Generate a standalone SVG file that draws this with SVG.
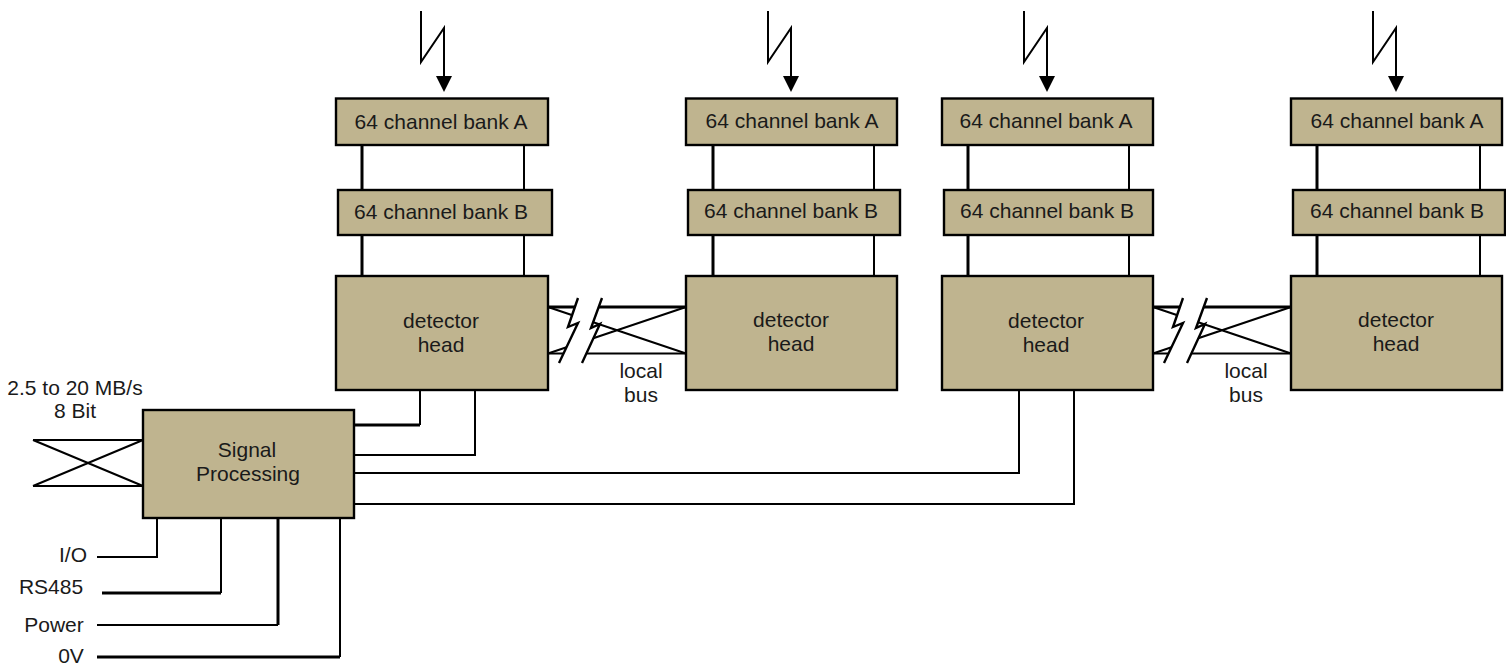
<svg xmlns="http://www.w3.org/2000/svg" width="1506" height="664" viewBox="0 0 1506 664">
<style>
text{font-family:"Liberation Sans",Arial,sans-serif;font-size:21px;fill:#1a1a1a;text-anchor:middle}
.box{fill:#bfb48f;stroke:#000;stroke-width:2.4}
.l{fill:none;stroke:#000;stroke-width:2}
.t{fill:none;stroke:#000;stroke-width:3}
.z{fill:none;stroke:#000;stroke-width:2.4}
</style>
<defs>
<g id="bolt"><polyline class="l" points="0,11 0,62 23,28 23,78"/><polygon points="15,76 31,76 23,92" fill="#000"/></g>
<g id="brk">
<path class="t" d="M0,307H138" stroke-width="3.500"/>
<path class="l" d="M0,353.500H138"/>
<path class="l" d="M0,307L138,353.500M0,353.500L138,307"/>
<polygon points="30,298 20,327 30,323 11,363 34,363 52,324 43,328 54,298" fill="#fff"/>
<path class="z" d="M30,298L20,327L30,323L11,363M54,298L43,328L52,324L34,363"/>
</g>
</defs>
<g id="connectors">
<use href="#bolt" x="421"/><use href="#bolt" x="768"/><use href="#bolt" x="1024"/><use href="#bolt" x="1373"/>
<path class="t" d="M362,145V276M713,145V276M968,145V276M1317,145V276"/>
<path class="l" d="M524,145V276M874,145V276M1129,145V276M1480,145V276"/>
<use href="#brk" x="548"/><use href="#brk" x="1153"/>
<path class="t" d="M354,425H420"/><path class="l" d="M420,425V390"/>
<path class="l" d="M354,455H475V390M354,473H1019V390M354,504H1074V390"/>
<path class="l" d="M33,440H143M33,486H143M33,440L143,486M33,486L143,440"/>
<path class="l" d="M97,557H157V518"/>
<path class="t" d="M102,593H221"/><path class="l" d="M221,593V518"/>
<path class="l" d="M97,625H278"/><path class="t" d="M278,625V518"/>
<path class="t" d="M97,657H340"/><path class="l" d="M340,657V518"/>
</g>
<g id="bank-a1"><rect class="box" x="336" y="98.500" width="212" height="46.500"/><text x="441" y="129">64 channel bank A</text></g>
<g id="bank-b1"><rect class="box" x="338" y="190" width="214" height="45"/><text x="441" y="219">64 channel bank B</text></g>
<g id="head1"><rect class="box" x="336" y="276" width="212" height="114"/><text x="441" y="328">detector</text><text x="441" y="352">head</text></g>
<g id="bank-a2"><rect class="box" x="686" y="98.500" width="211" height="46.500"/><text x="792" y="128">64 channel bank A</text></g>
<g id="bank-b2"><rect class="box" x="688" y="190" width="212" height="45"/><text x="791" y="218">64 channel bank B</text></g>
<g id="head2"><rect class="box" x="686" y="276" width="211" height="114"/><text x="791" y="327">detector</text><text x="791" y="351">head</text></g>
<g id="bank-a3"><rect class="box" x="942" y="98.500" width="211" height="46.500"/><text x="1046" y="128">64 channel bank A</text></g>
<g id="bank-b3"><rect class="box" x="944" y="190" width="209" height="45"/><text x="1047" y="218">64 channel bank B</text></g>
<g id="head3"><rect class="box" x="942" y="276" width="211" height="114"/><text x="1046" y="328">detector</text><text x="1046" y="352">head</text></g>
<g id="bank-a4"><rect class="box" x="1291" y="98.500" width="211" height="46.500"/><text x="1397" y="128">64 channel bank A</text></g>
<g id="bank-b4"><rect class="box" x="1293" y="190" width="212" height="45"/><text x="1397" y="218">64 channel bank B</text></g>
<g id="head4"><rect class="box" x="1291" y="276" width="211" height="114"/><text x="1396" y="327">detector</text><text x="1396" y="351">head</text></g>
<g id="signal"><rect class="box" x="143" y="410" width="211" height="108"/><text x="247" y="457">Signal</text><text x="248" y="481">Processing</text></g>
<g id="labels">
<text x="641" y="378">local</text><text x="641" y="402">bus</text>
<text x="1246" y="378">local</text><text x="1246" y="402">bus</text>
<text x="75" y="395">2.5 to 20 MB/s</text><text x="75" y="418">8 Bit</text>
<text x="73" y="562">I/O</text><text x="51" y="594">RS485</text><text x="54" y="632">Power</text><text x="71" y="663">0V</text>
</g>
</svg>
